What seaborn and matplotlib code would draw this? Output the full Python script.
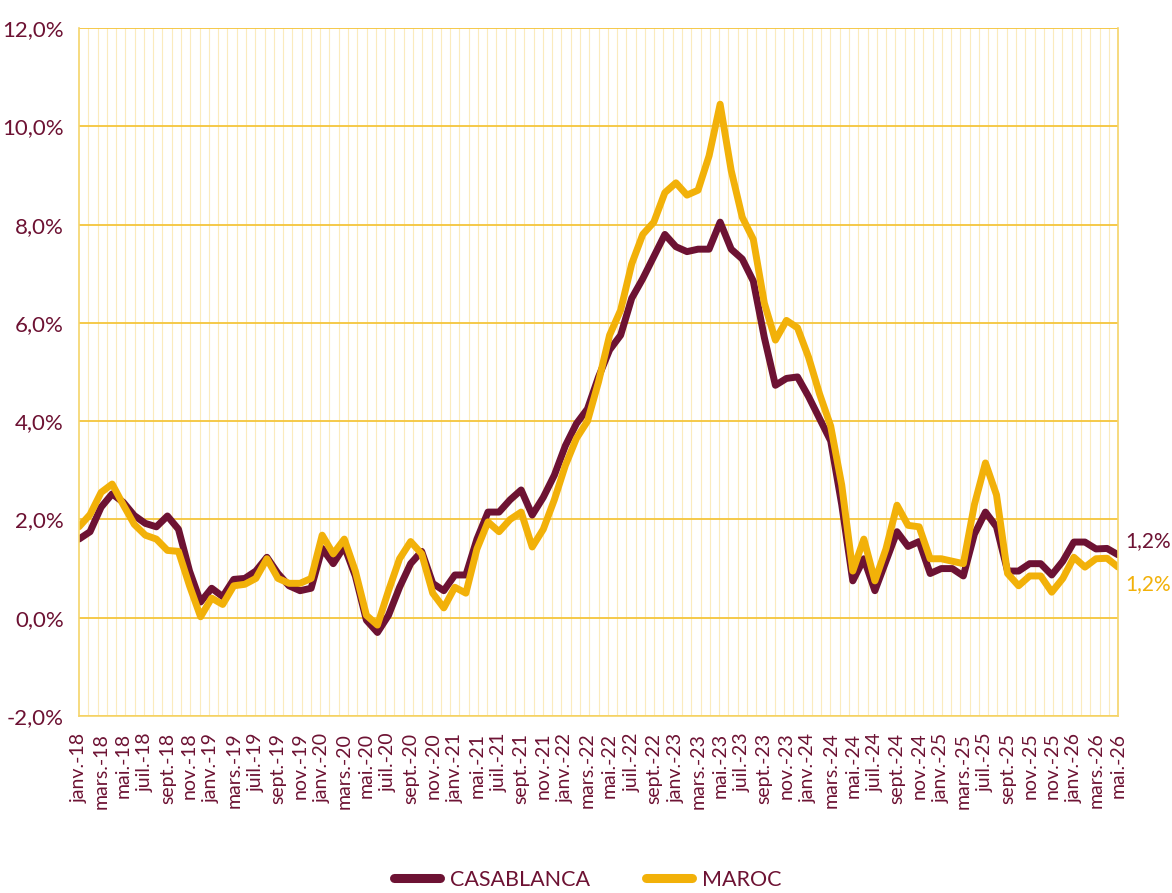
import numpy as np
import pandas as pd
import matplotlib
matplotlib.use("Agg")
import matplotlib.pyplot as plt
from matplotlib.ticker import FuncFormatter, FixedLocator
import seaborn as sns

# Data (monthly index, labels every other month)
tick_labels = [
    "janv.-18", "mars.-18", "mai.-18", "juil.-18", "sept.-18", "nov.-18",
    "janv.-19", "mars.-19", "juil.-19", "sept.-19", "nov.-19",
    "janv.-20", "mars.-20", "mai.-20", "juil.-20", "sept.-20", "nov.-20",
    "janv.-21", "mai.-21", "juil.-21", "sept.-21", "nov.-21",
    "janv.-22", "mars.-22", "mai.-22", "juil.-22", "sept.-22",
    "janv.-23", "mars.-23", "mai.-23", "juil.-23", "sept.-23", "nov.-23",
    "janv.-24", "mars.-24", "mai.-24", "juil.-24", "sept.-24", "nov.-24",
    "janv.-25", "mars.-25", "juil.-25", "sept.-25", "nov.-25", "nov.-25",
    "janv.-26", "mars.-26", "mai.-26",
]

casablanca = [
    1.60, 1.75, 2.25, 2.52, 2.35, 2.08, 1.92, 1.85, 2.07, 1.80,
    0.95, 0.32, 0.60, 0.43, 0.78, 0.80, 0.95, 1.23, 0.90, 0.65,
    0.55, 0.60, 1.41, 1.10, 1.45, 0.85, -0.05, -0.30, 0.05, 0.62,
    1.10, 1.35, 0.70, 0.55, 0.87, 0.87, 1.60, 2.15, 2.15, 2.40,
    2.60, 2.09, 2.45, 2.90, 3.50, 3.95, 4.25, 4.90, 5.45, 5.75,
    6.50, 6.90, 7.35, 7.80, 7.55, 7.45, 7.50, 7.50, 8.05, 7.50,
    7.30, 6.85, 5.70, 4.73, 4.87, 4.90, 4.50, 4.05, 3.60, 2.30,
    0.75, 1.20, 0.55, 1.15, 1.75, 1.45, 1.55, 0.90, 1.00, 1.00,
    0.85, 1.70, 2.15, 1.85, 0.95, 0.95, 1.10, 1.10, 0.87, 1.15,
    1.54, 1.54, 1.40, 1.41, 1.28,
]

maroc = [
    1.85, 2.10, 2.55, 2.72, 2.30, 1.90, 1.68, 1.60, 1.37, 1.35,
    0.65, 0.02, 0.40, 0.27, 0.65, 0.68, 0.80, 1.20, 0.80, 0.70,
    0.70, 0.80, 1.68, 1.30, 1.60, 0.95, 0.05, -0.15, 0.55, 1.20,
    1.55, 1.30, 0.50, 0.20, 0.62, 0.50, 1.40, 1.95, 1.75, 2.00,
    2.15, 1.44, 1.80, 2.40, 3.10, 3.65, 4.00, 4.80, 5.75, 6.26,
    7.20, 7.80, 8.05, 8.65, 8.85, 8.60, 8.70, 9.40, 10.45, 9.10,
    8.15, 7.70, 6.40, 5.65, 6.05, 5.90, 5.30, 4.55, 3.90, 2.70,
    0.95, 1.60, 0.75, 1.40, 2.29, 1.88, 1.85, 1.20, 1.20, 1.15,
    1.10, 2.30, 3.15, 2.50, 0.90, 0.65, 0.85, 0.85, 0.52, 0.80,
    1.23, 1.03, 1.20, 1.21, 1.03,
]

series_names = ["CASABLANCA", "MAROC"]
end_labels = ["1,2%", "1,2%"]

MAROON = "#6d1233"
GOLD = "#f2b109"

months = np.arange(len(casablanca))
df = pd.concat([
    pd.DataFrame({"mois": months, "taux": casablanca, "zone": series_names[0]}),
    pd.DataFrame({"mois": months, "taux": maroc, "zone": series_names[1]}),
])

sns.set_theme(style="white")
plt.rcParams["font.family"] = ["Lato", "DejaVu Sans"]

fig = plt.figure(figsize=(11.72, 8.93), dpi=100)
ax = fig.add_axes([0.0674, 0.1982, 0.8866, 0.7704])

sns.lineplot(data=df, x="mois", y="taux", hue="zone", hue_order=series_names,
             palette=[MAROON, GOLD], linewidth=5, ax=ax, legend=True,
             solid_capstyle="round", solid_joinstyle="round")

ax.set_xlim(0, months[-1])
ax.set_ylim(-2, 12)
ax.set_yticks(np.arange(-2, 12.1, 2))
ax.yaxis.set_major_formatter(FuncFormatter(lambda v, p: f"{v:.1f}%".replace(".", ",")))
ax.tick_params(axis="y", labelsize=16, labelcolor=MAROON, length=0, pad=11)

ax.set_xticks(np.arange(0, len(casablanca), 2))
ax.set_xticklabels(tick_labels, rotation=90, fontsize=14, color=MAROON)
ax.tick_params(axis="x", length=0, pad=12)
ax.xaxis.set_minor_locator(FixedLocator(np.linspace(0, months[-1], 113)))

ax.grid(False)
ax.grid(axis="y", which="major", color="#f5c53c", linewidth=1.3)
ax.grid(axis="x", which="minor", color="#fbebbd", linewidth=0.8)
ax.set_axisbelow(True)
for side, sp in ax.spines.items():
    sp.set_visible(side != "top")
    sp.set_color("#f5d46a")
    sp.set_linewidth(1.2)

ax.set_xlabel("")
ax.set_ylabel("")

# end-of-series labels
ax.annotate(end_labels[0], xy=(months[-1], casablanca[-1]), xytext=(5, 10),
            textcoords="offset points", color=MAROON, fontsize=15, va="center")
ax.annotate(end_labels[1], xy=(months[-1], maroc[-1]), xytext=(5, -12),
            textcoords="offset points", color=GOLD, fontsize=15, va="center")

leg = ax.legend(loc="center", bbox_to_anchor=(0.49, -0.238), ncol=2, frameon=False,
                fontsize=15.5, handlelength=2.1, columnspacing=2.6, handletextpad=0.5)
for t in leg.get_texts():
    t.set_color(MAROON)
for l in leg.get_lines():
    l.set_linewidth(6.5)
    l.set_solid_capstyle("round")

fig.savefig("out.png", dpi=100, facecolor="white")
